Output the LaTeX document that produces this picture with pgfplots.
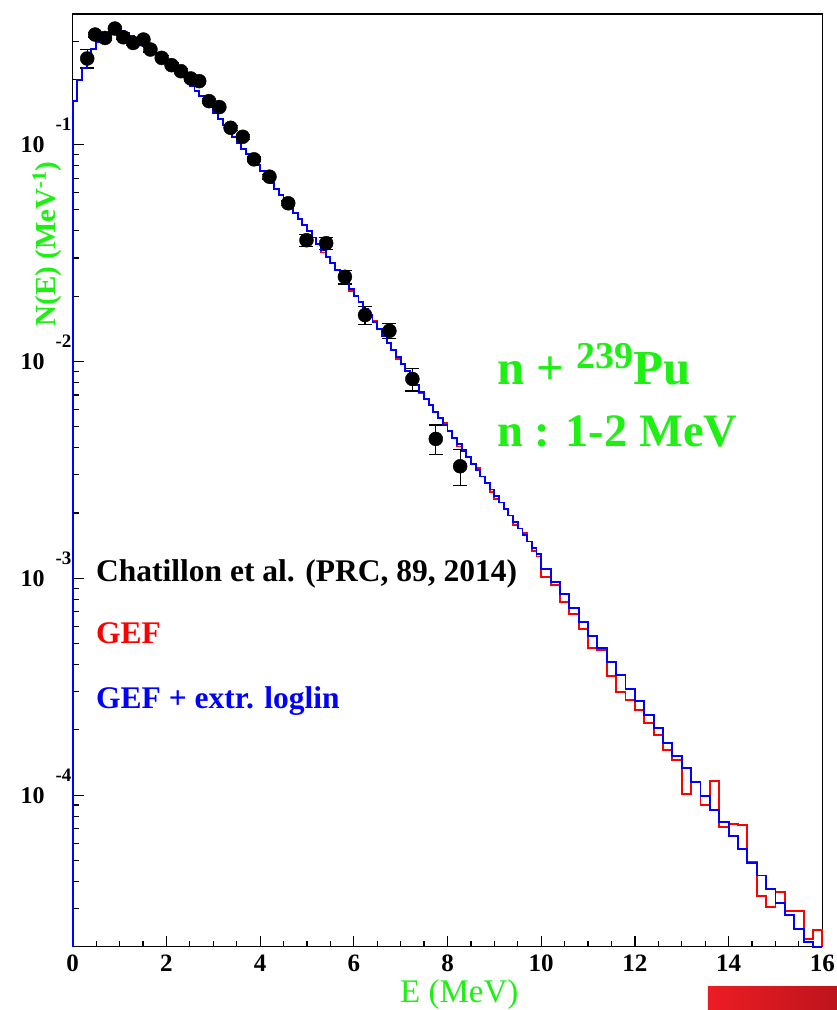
\documentclass[border=0pt]{standalone}
\usepackage{fontspec}
\setmainfont{Liberation Serif}
\usepackage{pgfplots}
\pgfplotsset{compat=1.18}
\usepackage{pgfplotstable}

\definecolor{rootgreen}{RGB}{30,240,20}
\definecolor{rootred}{RGB}{255,0,0}
\definecolor{rootblue}{RGB}{0,0,255}

\newcommand{\fs}[1]{\fontsize{#1}{#1}\selectfont}
% decade labels of the log axis: 10 with a raised exponent
\newcommand{\ylab}[1]{\fs{24}\bfseries 10\hspace{11pt}\raisebox{22pt}{\fs{19}\bfseries #1}}

% neutron spectra, left bin edge: GEF and GEF + extr. loglin
\pgfplotstableread{
E     gef        ext
0.0   2.0e-5     2.0e-5
0.0   0.1586     0.1586
0.1   0.1982     0.1982
0.2   0.2250     0.2250
0.3   0.2501     0.2501
0.4   0.2753     0.2753
0.5   0.2964     0.2964
0.6   0.3125     0.3125
0.7   0.3261     0.3261
0.8   0.3331     0.3331
0.9   0.3349     0.3349
1.0   0.3331     0.3331
1.1   0.3261     0.3261
1.2   0.3175     0.3175
1.3   0.3076     0.3076
1.4   0.2964     0.2964
1.5   0.2856     0.2856
1.6   0.2753     0.2753
1.7   0.2652     0.2652
1.8   0.2555     0.2555
1.9   0.2449     0.2449
2.0   0.2347     0.2347
2.1   0.2250     0.2250
2.2   0.2157     0.2157
2.3   0.2056     0.2056
2.4   0.1961     0.1961
2.5   0.1869     0.1869
2.6   0.1772     0.1772
2.7   0.1681     0.1681
2.8   0.1586     0.1586
2.9   0.1496     0.1496
3.0   0.1404     0.1404
3.1   0.1317     0.1317
3.2   0.1230     0.1230
3.3   0.1154     0.1154
3.4   0.1083     0.1083
3.5   0.1016     0.1016
3.6   0.09585    0.09585
3.7   0.09043    0.09043
3.8   0.08529    0.08529
3.9   0.08045    0.08045
4.0   0.07551    0.07551
4.1   0.07087    0.07087
4.2   0.06648    0.06648
4.3   0.06240    0.06240
4.4   0.05856    0.05856
4.5   0.05494    0.05494
4.6   0.05156    0.05156
4.7   0.04838    0.04838
4.8   0.04539    0.04539
4.9   0.04261    0.04261
5.0   0.03997    0.03997
5.1   0.03730    0.03730
5.2   0.03482    0.03482
5.3   0.03180    0.03251
5.4   0.03034    0.03034
5.5   0.02832    0.02832
5.6   0.02644    0.02644
5.7   0.02468    0.02468
5.8   0.02303    0.02303
5.9   0.02110    0.02150
6.0   0.02007    0.02007
6.1   0.01873    0.01873
6.2   0.01748    0.01748
6.3   0.01632    0.01632
6.4   0.01545    0.01523
6.5   0.01414    0.01414
6.6   0.01313    0.01313
6.7   0.01220    0.01220
6.8   0.01132    0.01132
6.9   0.01030    0.01051
7.0   0.009759   0.009759
7.1   0.009061   0.009061
7.2   0.008414   0.008414
7.3   0.007809   0.007809
7.4   0.007120   0.007251
7.5   0.006734   0.006734
7.6   0.006285   0.006285
7.7   0.005865   0.005865
7.8   0.005474   0.005474
7.9   0.005200   0.005109
8.0   0.004770   0.004770
8.1   0.004452   0.004452
8.2   0.004050   0.004156
8.3   0.003880   0.003880
8.4   0.003622   0.003622
8.5   0.003381   0.003381
8.6   0.003220   0.003156
8.7   0.002946   0.002946
8.8   0.002749   0.002749
8.9   0.002500   0.002566
9.0   0.002320   0.002395
9.1   0.002236   0.002236
9.2   0.002087   0.002087
9.3   0.001948   0.001948
9.4   0.001760   0.001818
9.5   0.001697   0.001697
9.6   0.001620   0.001584
9.7   0.001478   0.001478
9.8   0.001340   0.001380
9.9   0.001260   0.001288
10.0  1.013e-3   1.107e-3
10.2  9.28e-4    9.61e-4
10.4  7.77e-4    8.43e-4
10.6  6.87e-4    7.29e-4
10.8  5.86e-4    6.29e-4
11.0  4.77e-4    5.44e-4
11.2  4.69e-4    4.77e-4
11.4  3.55e-4    4.11e-4
11.6  2.99e-4    3.57e-4
11.8  2.74e-4    3.08e-4
12.0  2.46e-4    2.71e-4
12.2  2.16e-4    2.34e-4
12.4  1.90e-4    2.03e-4
12.6  1.62e-4    1.74e-4
12.8  1.45e-4    1.51e-4
13.0  1.01e-4    1.33e-4
13.2  1.145e-4   1.145e-4
13.4  9.00e-5    9.90e-5
13.6  1.161e-4   8.54e-5
13.8  7.15e-5    7.49e-5
14.0  7.36e-5    6.48e-5
14.2  7.28e-5    5.63e-5
14.4  4.94e-5    4.85e-5
14.6  3.43e-5    4.26e-5
14.8  3.06e-5    3.68e-5
15.0  3.59e-5    3.17e-5
15.2  2.91e-5    2.81e-5
15.4  2.91e-5    2.41e-5
15.6  2.17e-5    2.11e-5
15.8  2.38e-5    2.0e-5
16.0  2.38e-5    2.0e-5
16.0  2.0e-5     2.0e-5
}\spectra

% Chatillon et al., PRC 89 (2014): E, N(E), error up, error down
\pgfplotstableread{
E     N         ep        em
0.31  0.2494    0.0250    0.0237
0.48  0.3216    0.0080    0.0080
0.69  0.3102    0.0078    0.0078
0.90  0.3428    0.0086    0.0086
1.08  0.3125    0.0078    0.0078
1.29  0.2942    0.0074    0.0074
1.51  0.3050    0.0076    0.0076
1.66  0.2744    0.0069    0.0069
1.90  0.2510    0.0063    0.0063
2.11  0.2323    0.0058    0.0058
2.31  0.2180    0.0055    0.0055
2.52  0.2017    0.0050    0.0050
2.70  0.1961    0.0049    0.0049
2.91  0.1586    0.0040    0.0040
3.13  0.1489    0.0037    0.0037
3.37  0.1195    0.0030    0.0030
3.63  0.1086    0.0027    0.0027
3.87  0.08548   0.0021    0.0021
4.20  0.07110   0.0018    0.0018
4.60  0.05361   0.0013    0.0013
4.99  0.03622   0.0024    0.0024
5.41  0.03508   0.0023    0.0023
5.81  0.02455   0.0018    0.0018
6.24  0.01636   0.0016    0.0016
6.76  0.01384   0.0011    0.0011
7.25  0.008299  0.0010    0.0010
7.75  0.004391  0.0007    0.00067
8.27  0.003285  0.00064   0.00061
}\chatillon

\begin{document}
\begin{tikzpicture}
\path[use as bounding box] (0,0) rectangle (837pt,1010pt);
\begin{axis}[
  at={(72.7pt,63.3pt)}, anchor=south west,
  scale only axis, width=749.6pt, height=932.7pt,
  xmin=0, xmax=16,
  ymode=log, log basis y=10, ymin=2e-5, ymax=0.4,
  xtick={0,2,4,6,8,10,12,14,16},
  xticklabels={0,2,4,6,8,10,12,14,16},
  minor x tick num=3,
  ytick={1e-4,1e-3,1e-2,1e-1},
  yticklabels={\ylab{-4},\ylab{-3},\ylab{-2},\ylab{-1}},
  minor ytick={2e-5,3e-5,4e-5,5e-5,6e-5,7e-5,8e-5,9e-5,
               2e-4,3e-4,4e-4,5e-4,6e-4,7e-4,8e-4,9e-4,
               2e-3,3e-3,4e-3,5e-3,6e-3,7e-3,8e-3,9e-3,
               2e-2,3e-2,4e-2,5e-2,6e-2,7e-2,8e-2,9e-2,
               0.2,0.3},
  tick align=inside, xtick pos=left, ytick pos=left,
  major tick length=11pt, minor tick length=6pt,
  every tick/.style={black, line width=1.2pt},
  axis line style={black, line width=1.3pt},
  clip=false,
  xticklabel style={font=\fs{25}\bfseries, inner sep=0pt, yshift=-8pt},
  yticklabel style={anchor=base east, inner sep=0pt, xshift=-1pt, yshift=-8.3pt},
]
\addplot[only marks, mark=*, mark size=7pt, black,
  error bars/.cd, y dir=both, y explicit,
  error bar style={line width=1.3pt, black},
  error mark options={rotate=90, mark size=7pt, line width=1.3pt, black}]
  table[x=E, y=N, y error plus=ep, y error minus=em] {\chatillon};
\addplot[const plot, rootred, line width=1.9pt] table[x=E, y=gef] {\spectra};
\addplot[const plot, rootblue, line width=1.9pt] table[x=E, y=ext] {\spectra};
\end{axis}

% axis titles
\node[anchor=base, text=rootgreen, font=\fs{33}, inner sep=0pt] at (459.3pt,8pt) {E (MeV)};
\node[rotate=90, anchor=base, text=rootgreen, font=\fs{29}\bfseries, inner sep=0pt] at (55pt,766pt) {N(E) (MeV\textsuperscript{-1})};

% reaction label
\node[anchor=base west, text=rootgreen, font=\fs{49}\bfseries, inner sep=0pt] at (497pt,625pt)
  {n + \raisebox{16pt}{\fs{38}\bfseries 239}Pu};
\node[anchor=base west, text=rootgreen, font=\fs{46.5}\bfseries, inner sep=0pt] at (497pt,563pt)
  {n : 1-2 MeV};

% legend entries
\node[anchor=base west, text=black, font=\fs{31.5}\bfseries, inner sep=0pt] at (96pt,428pt)
  {Chatillon et al. (PRC, 89, 2014)};
\node[anchor=base west, text=rootred, font=\fs{31.5}\bfseries, inner sep=0pt] at (96pt,366pt) {GEF};
\node[anchor=base west, text=rootblue, font=\fs{31.5}\bfseries, inner sep=0pt] at (96pt,301pt) {GEF + extr. loglin};

% slide footer bar
\shade[left color={rgb,255:red,236;green,28;blue,36}, right color={rgb,255:red,190;green,20;blue,28}]
  (707.8pt,0pt) rectangle (837pt,23.3pt);
\end{tikzpicture}
\end{document}
